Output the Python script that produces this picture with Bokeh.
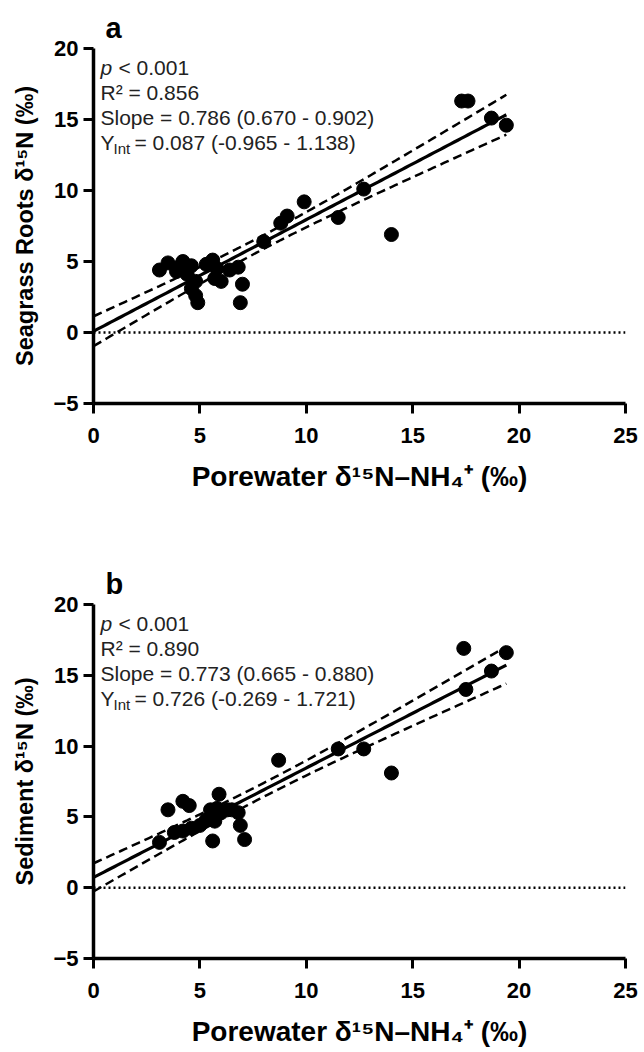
import numpy as np
from bokeh.plotting import figure
from bokeh.layouts import column
from bokeh.models import Label, Span, FixedTicker
from bokeh.embed import file_html
from bokeh.resources import INLINE

# ---------------- data ----------------
x_ticks = [0, 5, 10, 15, 20, 25]
y_ticks = [-5, 0, 5, 10, 15, 20]

# Panel a: seagrass roots vs porewater
a_x = [3.1, 3.5, 3.9, 4.2, 4.4, 4.6, 4.6, 4.8, 4.9, 4.8, 5.6, 5.8, 5.7, 6.0, 6.4,
       6.8, 7.0, 6.9, 5.3, 4.0, 8.0, 8.8, 9.1, 9.9, 11.5, 12.7, 14.0, 17.3, 17.6,
       18.7, 19.4]
a_y = [4.4, 4.9, 4.3, 5.0, 4.1, 4.7, 3.1, 2.6, 2.1, 3.6, 5.1, 4.5, 3.8, 3.6, 4.4,
       4.6, 3.4, 2.1, 4.8, 4.6, 6.4, 7.7, 8.2, 9.2, 8.1, 10.1, 6.9, 16.3, 16.3,
       15.1, 14.6]
a_r2 = "0.856"
a_slope = 0.786
a_slope_ci = (0.670, 0.902)
a_yint = 0.087
a_yint_ci = (-0.965, 1.138)

# Panel b: sediment vs porewater
b_x = [3.1, 3.5, 3.8, 4.2, 4.5, 4.2, 4.6, 5.0, 5.3, 5.5, 5.6, 5.7, 5.9, 6.0, 6.3,
       6.5, 6.8, 6.9, 7.1, 5.8, 8.7, 11.5, 12.7, 14.0, 17.4, 17.5, 18.7, 19.4]
b_y = [3.2, 5.5, 3.9, 6.1, 5.8, 4.0, 4.2, 4.4, 4.8, 5.5, 3.3, 4.7, 6.6, 5.3, 5.5,
       5.5, 5.3, 4.4, 3.4, 5.6, 9.0, 9.8, 9.8, 8.1, 16.9, 14.0, 15.3, 16.6]
b_r2 = "0.890"
b_slope = 0.773
b_slope_ci = (0.665, 0.880)
b_yint = 0.726
b_yint_ci = (-0.269, 1.721)

FONT = "Liberation Sans"


def fmt(v):
    return f"{v:.3f}"


def make_panel(letter, ylabel, xs, ys, r2, slope, slope_ci, yint, yint_ci,
               height, top, bottom):
    p = figure(width=644, height=height, x_range=(0, 25), y_range=(-5, 20),
               output_backend="svg", toolbar_location=None,
               min_border_left=93, min_border_right=19,
               min_border_top=top, min_border_bottom=bottom)
    p.xgrid.visible = False
    p.ygrid.visible = False
    p.outline_line_color = None
    p.background_fill_color = "white"
    p.border_fill_color = "white"

    p.title.text = letter
    p.title.text_font = FONT
    p.title.text_font_size = "29px"
    p.title.text_font_style = "bold"
    p.title.text_color = "black"
    p.title.align = "left"
    p.title.offset = 12
    p.title.standoff = 9

    p.xaxis.ticker = FixedTicker(ticks=x_ticks)
    p.yaxis.ticker = FixedTicker(ticks=y_ticks)
    for ax in (p.xaxis[0], p.yaxis[0]):
        ax.axis_line_width = 3.5
        ax.axis_line_color = "black"
        ax.major_tick_line_width = 3
        ax.major_tick_line_color = "black"
        ax.major_tick_out = 10
        ax.major_tick_in = 0
        ax.minor_tick_line_color = None
        ax.major_label_text_font = FONT
        ax.major_label_text_font_size = "22px"
        ax.major_label_text_font_style = "bold"
        ax.major_label_text_color = "black"
        ax.axis_label_text_font = FONT
        ax.axis_label_text_font_style = "bold"
        ax.axis_label_text_color = "black"
    p.xaxis.axis_label_text_font_size = "28px"
    p.yaxis.axis_label_text_font_size = "23.5px"
    p.xaxis.major_label_standoff = 14
    p.yaxis.major_label_standoff = 5
    p.xaxis.axis_label_standoff = 15
    p.yaxis.axis_label_standoff = 12
    p.xaxis.axis_label = "Porewater δ¹⁵N–NH₄⁺ (‰)"
    p.yaxis.axis_label = ylabel

    # zero reference line
    p.add_layout(Span(location=0, dimension="width", line_color="black",
                      line_width=2.5, line_dash="2 3"))

    # regression line and 95% confidence band
    xs_arr = np.array(xs)
    xbar = xs_arr.mean()
    b_half = (slope_ci[1] - slope_ci[0]) / 2
    h0 = (yint_ci[1] - yint_ci[0]) / 2
    a2 = max(h0 ** 2 - (b_half * xbar) ** 2, 0.0)
    xx = np.linspace(0, xs_arr.max(), 120)
    yy = slope * xx + yint
    hw = np.sqrt(a2 + (b_half * (xx - xbar)) ** 2)
    p.line(xx, yy + hw, line_color="black", line_width=2.5, line_dash="9 5")
    p.line(xx, yy - hw, line_color="black", line_width=2.5, line_dash="9 5")
    p.line(xx, yy, line_color="black", line_width=3.2)

    p.scatter(xs, ys, size=14, color="black")

    # annotation text
    def lab(text, xo, yo, size="21px", style="normal"):
        p.add_layout(Label(x=0, y=20, x_offset=xo, y_offset=yo, text=text,
                           text_font=FONT, text_font_size=size,
                           text_font_style=style, text_color="#222222",
                           text_baseline="middle"))

    lab("p", 7, -19, style="italic")
    lab("< 0.001", 25, -19)
    lab(f"R² = {r2}", 7, -44)
    lab(f"Slope = {fmt(slope)} ({fmt(slope_ci[0])} - {fmt(slope_ci[1])})", 7, -69)
    lab("Y", 7, -94)
    lab("Int", 20, -100, size="15px")
    lab(f"= {fmt(yint)} ({fmt(yint_ci[0])} - {fmt(yint_ci[1])})", 41, -94)
    return p


pa = make_panel("a", "Seagrass Roots δ¹⁵N (‰)", a_x, a_y, a_r2, a_slope,
                a_slope_ci, a_yint, a_yint_ci, height=560, top=48, bottom=157)
pb = make_panel("b", "Sediment δ¹⁵N (‰)", b_x, b_y, b_r2, b_slope,
                b_slope_ci, b_yint, b_yint_ci, height=492, top=44, bottom=94)

layout = column(pa, pb, spacing=0)
open("out.html", "w").write(file_html(layout, INLINE))
